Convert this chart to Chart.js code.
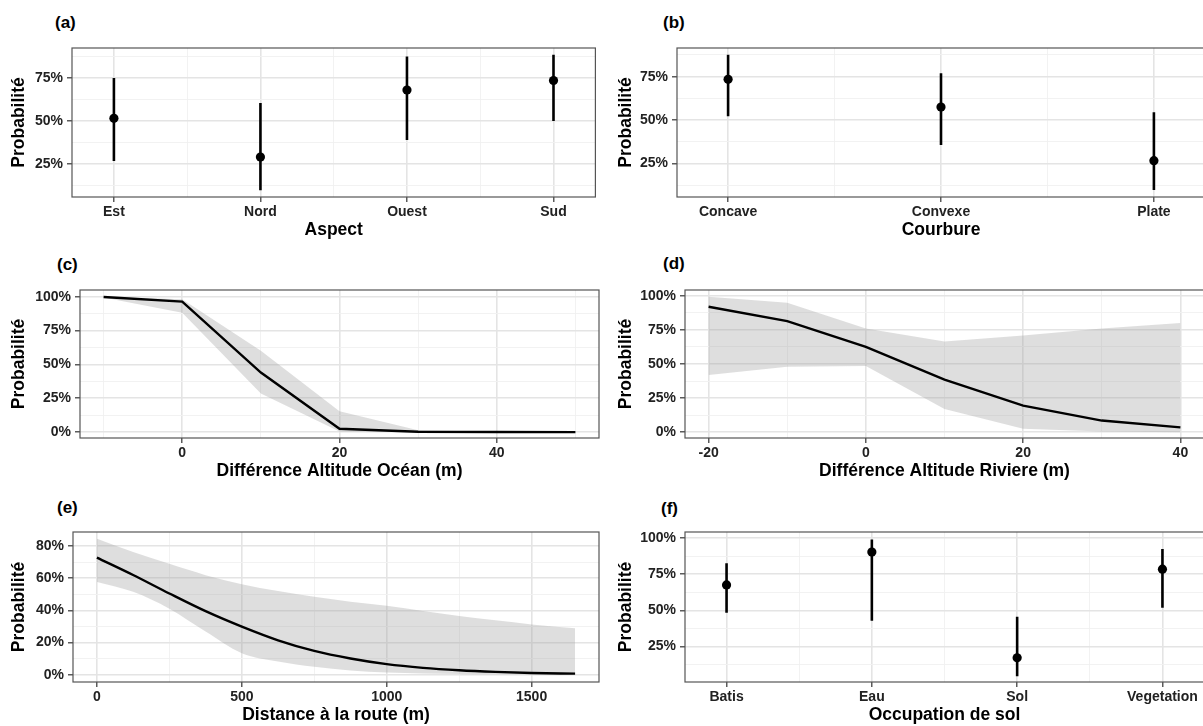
<!DOCTYPE html>
<html>
<head>
<meta charset="utf-8">
<script src="https://cdn.jsdelivr.net/npm/chart.js@4.4.1/dist/chart.umd.min.js"></script>
<style>
html,body{margin:0;padding:0;background:#fff;width:1203px;height:726px;overflow:hidden;position:relative;font-family:"Liberation Sans",Arial,sans-serif;}
canvas{position:absolute;}
.tag{position:absolute;font-weight:bold;font-size:17px;line-height:19px;color:#000;}
</style>
</head>
<body>
<div class="tag" style="left:55px;top:13px">(a)</div>
<div class="tag" style="left:663px;top:13px">(b)</div>
<div class="tag" style="left:57px;top:255px">(c)</div>
<div class="tag" style="left:663px;top:254px">(d)</div>
<div class="tag" style="left:57px;top:498px">(e)</div>
<div class="tag" style="left:661px;top:499px">(f)</div>
<canvas id="pa"></canvas>
<canvas id="pb"></canvas>
<canvas id="pc"></canvas>
<canvas id="pd"></canvas>
<canvas id="pe"></canvas>
<canvas id="pf"></canvas>
<script>
// (a) Aspect
const aspectCats = ['Est', 'Nord', 'Ouest', 'Sud'];
const aspectProb = [51.5, 29, 68, 73.5];
const aspectLow = [26.7, 9.7, 39, 50];
const aspectHigh = [75, 60.5, 87.5, 88.5];

// (b) Courbure
const courbureCats = ['Concave', 'Convexe', 'Plate'];
const courbureProb = [73.5, 57.5, 26.7];
const courbureLow = [52.3, 35.7, 9.8];
const courbureHigh = [87.6, 77, 54.6];

// (c) Différence altitude océan
const oceanX = [-10, 0, 10, 20, 30, 40, 50];
const oceanProb = [99.7, 96.3, 44, 2.5, 0.3, 0.1, 0];
const oceanLow = [99.3, 88.2, 28.5, 0.5, 0, 0, 0];
const oceanHigh = [100, 98, 60, 15.5, 1.5, 0.3, 0.1];

// (d) Différence altitude rivière
const riverX = [-20, -10, 0, 10, 20, 30, 40];
const riverProb = [92, 81.5, 62.5, 38.5, 19.5, 8.5, 3.5];
const riverLow = [42, 48, 48.5, 17, 2.5, 0.5, 0];
const riverHigh = [99.3, 95, 76, 66.5, 71, 76, 80];

// (e) Distance à la route
const routeX = [0, 125, 250, 375, 500, 625, 750, 875, 1000, 1125, 1250, 1375, 1500, 1650];
const routeProb = [72.8, 62, 50.5, 39.5, 29.9, 21.4, 14.8, 10.1, 6.6, 4.3, 2.8, 1.8, 1.1, 0.7];
const routeLow = [57.7, 51.5, 41, 26.8, 13.4, 8.2, 4.9, 2.7, 1.4, 0.8, 0.5, 0.3, 0.2, 0.1];
const routeHigh = [84.5, 76.3, 68.9, 61.9, 56.3, 52, 48.5, 45.4, 42.9, 39.6, 36.5, 33.8, 31.3, 28.9];

// (f) Occupation de sol
const solCats = ['Batis', 'Eau', 'Sol', 'Vegetation'];
const solProb = [67.6, 90.3, 17.1, 78.5];
const solLow = [48.4, 42.8, 4.4, 51.8];
const solHigh = [82.6, 99, 45.6, 92.5];

// tick values
const pctQuarter = [25, 50, 75, 100];
const pctQuarterMinor = [12.5, 37.5, 62.5, 87.5];
const pctQuarterZero = [0, 25, 50, 75, 100];
const pctFifth = [0, 20, 40, 60, 80];
const pctFifthMinor = [10, 30, 50, 70];

const FONT = '"Liberation Sans", Arial, sans-serif';
const MAJOR = '#e4e4e4';
const MINOR = '#f0f0f0';

const borderBox = {
  id: 'borderBox',
  afterDatasetsDraw(chart) {
    const a = chart.chartArea, ctx = chart.ctx;
    ctx.save();
    ctx.strokeStyle = '#555';
    ctx.lineWidth = 1.2;
    ctx.strokeRect(a.left, a.top, a.right - a.left, a.bottom - a.top);
    ctx.restore();
  }
};

function axis(o) {
  const all = o.major.concat(o.minor).sort((p, q) => p - q);
  const isMajor = v => o.major.indexOf(v) >= 0;
  return {
    type: 'linear', min: o.min, max: o.max,
    afterBuildTicks: s => { s.ticks = all.map(v => ({value: v})); },
    afterFit: o.fit,
    border: {display: false},
    grid: {
      color: c => (c.tick && isMajor(c.tick.value)) ? MAJOR : MINOR,
      lineWidth: c => (c.tick && isMajor(c.tick.value)) ? 1.6 : 0.9,
      tickLength: 5,
      tickWidth: 1.2,
      tickColor: c => (c.tick && isMajor(c.tick.value)) ? '#333' : 'rgba(0,0,0,0)'
    },
    ticks: {
      autoSkip: false, maxRotation: 0, padding: o.pad,
      color: '#222',
      font: {family: FONT, size: 14, weight: 'bold'},
      callback: v => isMajor(v) ? o.label(v) : ''
    },
    title: {
      display: true, text: o.title, color: '#000',
      font: {family: FONT, size: 17.5, weight: 'bold', lineHeight: 1.2},
      padding: o.titlePad
    }
  };
}

function panel(id, box, xo, yo, datasets) {
  const cl = box.col ? 600 : 0;
  const cw = box.col ? 612 : 600;
  const ct = box.T - 48;
  const ch = box.B + 50 - ct;
  const cv = document.getElementById(id);
  cv.width = cw; cv.height = ch;
  cv.style.left = cl + 'px'; cv.style.top = ct + 'px';
  xo.fit = s => { s.height = 50; };
  xo.pad = 2;
  xo.titlePad = {top: 0, bottom: 5.9};
  yo.fit = s => { s.width = box.L - cl; };
  yo.pad = 4;
  yo.title = 'Probabilité';
  yo.titlePad = {top: box.col ? 15.5 : 8.5, bottom: 0};
  new Chart(cv, {
    type: 'scatter',
    data: {datasets: datasets},
    options: {
      responsive: false, animation: false, devicePixelRatio: 1, events: [],
      layout: {padding: {top: 48, left: 0, bottom: 0, right: cw - (box.R - cl)}},
      plugins: {legend: {display: false}, tooltip: {enabled: false}},
      scales: {x: axis(xo), y: axis(yo)}
    },
    plugins: [borderBox]
  });
}

function catSets(prob, low, high) {
  const bars = [];
  prob.forEach((p, i) => {
    bars.push({x: i, y: low[i]}, {x: i, y: high[i]}, {x: i, y: null});
  });
  return [
    {data: prob.map((p, i) => ({x: i, y: p})), order: 0, pointRadius: 4.6,
     backgroundColor: '#000', borderWidth: 0, showLine: false},
    {data: bars, order: 1, showLine: true, spanGaps: false, pointRadius: 0,
     borderColor: '#000', borderWidth: 2.6}
  ];
}

function curveSets(xs, prob, low, high, smooth) {
  const t = smooth ? 0.4 : 0;
  const mode = smooth ? 'monotone' : 'default';
  return [
    {data: xs.map((x, i) => ({x: x, y: prob[i]})), order: 0, showLine: true, pointRadius: 0,
     borderColor: '#000', borderWidth: 2.4, tension: t, cubicInterpolationMode: mode},
    {data: xs.map((x, i) => ({x: x, y: low[i]})), order: 2, showLine: true, pointRadius: 0,
     borderWidth: 0, borderColor: 'rgba(0,0,0,0)', fill: false, tension: t, cubicInterpolationMode: mode},
    {data: xs.map((x, i) => ({x: x, y: high[i]})), order: 1, showLine: true, pointRadius: 0,
     borderWidth: 0, borderColor: 'rgba(0,0,0,0)', fill: '-1', backgroundColor: 'rgba(160,160,160,0.35)',
     tension: t, cubicInterpolationMode: mode}
  ];
}

const pct = v => v + '%';
const num = v => String(v);

panel('pa', {col: 0, L: 72, T: 48, R: 599, B: 197},
  {min: -0.286, max: 3.286, major: [0, 1, 2, 3], minor: [0.5, 1.5, 2.5], label: v => aspectCats[v], title: 'Aspect'},
  {min: 5.8, max: 92.4, major: [25, 50, 75], minor: pctQuarterMinor, label: pct},
  catSets(aspectProb, aspectLow, aspectHigh));

panel('pb', {col: 1, L: 677, T: 48, R: 1205, B: 197},
  {min: -0.24, max: 2.24, major: [0, 1, 2], minor: [0.5, 1.5], label: v => courbureCats[v], title: 'Courbure'},
  {min: 5.8, max: 91.5, major: [25, 50, 75], minor: pctQuarterMinor, label: pct},
  catSets(courbureProb, courbureLow, courbureHigh));

panel('pc', {col: 0, L: 80, T: 290, R: 599, B: 438},
  {min: -13, max: 53, major: [0, 20, 40], minor: [-10, 10, 30, 50], label: num, title: 'Différence Altitude Océan (m)'},
  {min: -4.3, max: 104.9, major: pctQuarterZero, minor: pctQuarterMinor, label: pct},
  curveSets(oceanX, oceanProb, oceanLow, oceanHigh, false));

panel('pd', {col: 1, L: 685, T: 290, R: 1204, B: 438},
  {min: -23, max: 43, major: [-20, 0, 20, 40], minor: [-10, 10, 30], label: num, title: 'Différence Altitude Riviere (m)'},
  {min: -4.3, max: 104.3, major: pctQuarterZero, minor: pctQuarterMinor, label: pct},
  curveSets(riverX, riverProb, riverLow, riverHigh, false));

panel('pe', {col: 0, L: 73, T: 532, R: 599, B: 682},
  {min: -82.5, max: 1732.5, major: [0, 500, 1000, 1500], minor: [250, 750, 1250], label: num, title: 'Distance à la route (m)'},
  {min: -4.5, max: 88.7, major: pctFifth, minor: pctFifthMinor, label: pct},
  curveSets(routeX, routeProb, routeLow, routeHigh, true));

panel('pf', {col: 1, L: 685, T: 532, R: 1204, B: 682},
  {min: -0.286, max: 3.286, major: [0, 1, 2, 3], minor: [0.5, 1.5, 2.5], label: v => solCats[v], title: 'Occupation de sol'},
  {min: 0.4, max: 104.2, major: pctQuarter, minor: pctQuarterMinor, label: pct},
  catSets(solProb, solLow, solHigh));
</script>
</body>
</html>
